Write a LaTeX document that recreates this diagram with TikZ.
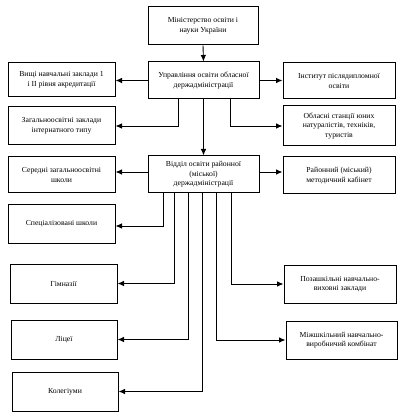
\documentclass[tikz,border=0pt]{standalone}
\usepackage{fontspec}
\setmainfont{Liberation Serif}
\usetikzlibrary{arrows.meta}
\begin{document}
\begin{tikzpicture}[x=1pt,y=-1pt,
  box/.style={draw, line width=1pt, align=center, inner sep=1pt,
    font=\fontsize{7.7}{9.6}\selectfont},
  arr/.style={line width=0.9pt, -{Latex[length=6.5pt,width=5.5pt]}}]
\useasboundingbox (0,0) rectangle (404,419);
\node[box, minimum width=110pt, minimum height=38pt] (min) at (203,26) {Міністерство освіти і\\науки України};
\node[box, minimum width=111pt, minimum height=37pt] (upr) at (203.5,80.5) {Управління освіти обласної\\держадміністрації};
\node[box, minimum width=111pt, minimum height=37pt] (vid) at (203.5,174.5) {Відділ освіти районної\\(міської)\\держадміністрації};
\node[box, minimum width=107pt, minimum height=34pt] (l1) at (61.5,80) {Вищі навчальні заклади 1\\і ІІ рівня акредитації};
\node[box, minimum width=107pt, minimum height=38pt] (l2) at (61.5,126) {Загальноосвітні заклади\\інтернатного типу};
\node[box, minimum width=107pt, minimum height=36pt] (l3) at (61.5,175) {Середні загальноосвітні\\школи};
\node[box, minimum width=107pt, minimum height=38pt] (l4) at (61.5,224) {Спеціалізовані школи};
\node[box, minimum width=107pt, minimum height=39pt] (l5) at (63.5,283.5) {Гімназії};
\node[box, minimum width=106pt, minimum height=39pt] (l6) at (64,339.5) {Ліцеї};
\node[box, minimum width=106pt, minimum height=39pt] (l7) at (65,391.5) {Колегіуми};
\node[box, minimum width=112pt, minimum height=36pt] (r1) at (339,81) {Інститут післядипломної\\освіти};
\node[box, minimum width=112pt, minimum height=40pt] (r2) at (339,126) {Обласні станції юних\\натуралістів, техніків,\\туристів};
\node[box, minimum width=112pt, minimum height=37pt] (r3) at (339,175.5) {Районний (міський)\\методичний кабінет};
\node[box, minimum width=112pt, minimum height=38pt] (r4) at (340,284) {Позашкільні навчально-\\виховні заклади};
\node[box, minimum width=111pt, minimum height=38pt] (r5) at (341.5,340) {Міжшкільний навчально-\\виробничий комбінат};
\draw[arr] (min.south) -- (upr.north);
\draw[arr] (upr.west) -- (upr.west -| l1.east);
\draw[arr] (upr.east) -- (upr.east -| r1.west);
\draw[arr] ([xshift=-25.5pt]upr.south) |- (l2.east);
\draw[arr] ([xshift=26.5pt]upr.south) |- (r2.west);
\draw[arr] (upr.south) -- (vid.north);
\draw[arr] ([yshift=2.5pt]vid.west) -- ([yshift=2.5pt]vid.west -| l3.east);
\draw[arr] ([yshift=2.5pt]vid.east) -- ([yshift=2.5pt]vid.east -| r3.west);
\draw[arr] ([xshift=-40.5pt]vid.south) |- ([yshift=-2pt]l4.east);
\draw[arr] ([xshift=-29.5pt]vid.south) |- (l5.east);
\draw[arr] ([xshift=-15.5pt]vid.south) |- (l6.east);
\draw[arr] ([xshift=-1.5pt]vid.south) |- (l7.east);
\draw[arr] ([xshift=12.5pt]vid.south) |- (r5.west);
\draw[arr] ([xshift=27.5pt]vid.south) |- (r4.west);
\end{tikzpicture}
\end{document}
